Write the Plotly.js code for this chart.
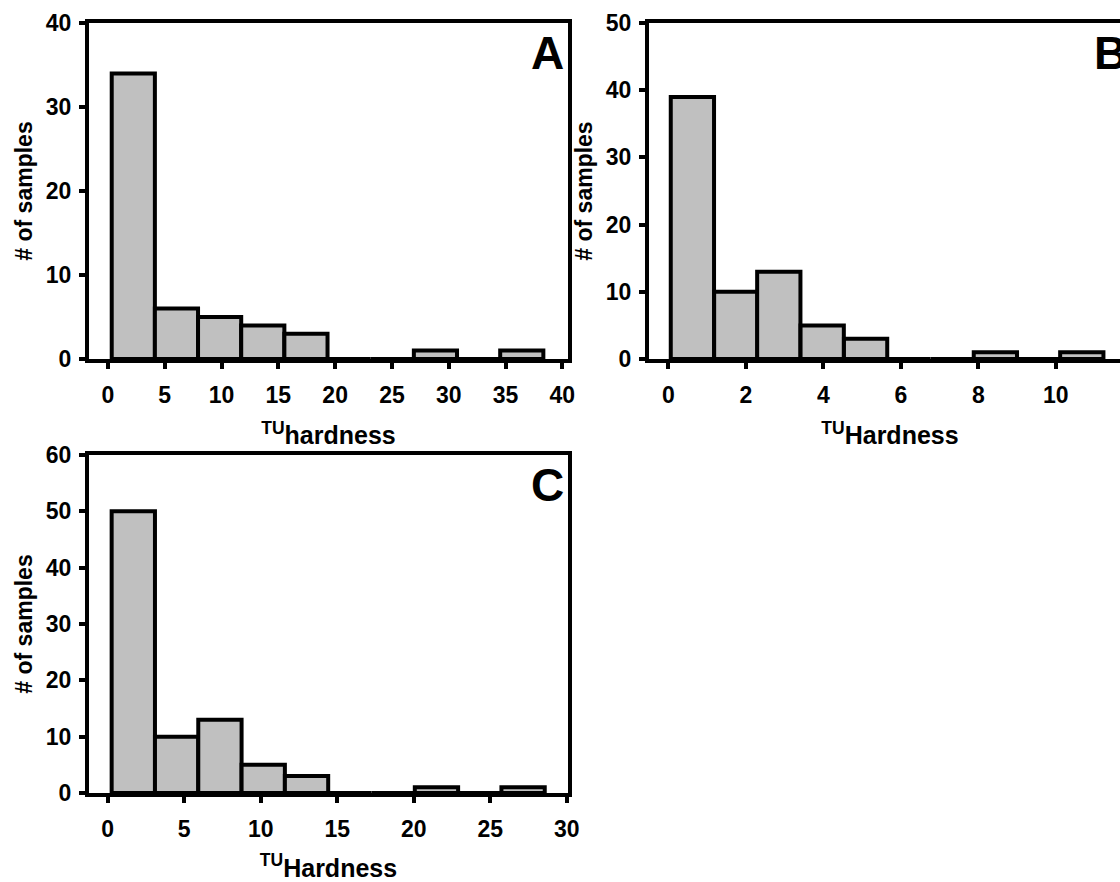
<!DOCTYPE html>
<html>
<head>
<meta charset="utf-8">
<script src="https://cdn.plot.ly/plotly-3.0.1.min.js"></script>
<style>
  html, body { margin: 0; padding: 0; overflow: hidden; background: #fff; }
  #chart { width: 1150px; height: 882px; }
</style>
</head>
<body>
<div id="chart"></div>
<script>
// ---- Data ----
// Panel A: TU hardness histogram
const binCentersA = [2.23, 6.03, 9.83, 13.63, 17.43, 21.23, 25.03, 28.83, 32.63, 36.43];
const countsA     = [34, 6, 5, 4, 3, 0, 0, 1, 0, 1];
const binWidthA   = 3.8;
// Panel B
const binCentersB = [0.62, 1.74, 2.85, 3.97, 5.09, 6.20, 7.32, 8.44, 9.55, 10.67];
const countsB     = [39, 10, 13, 5, 3, 0, 0, 1, 0, 1];
const binWidthB   = 1.117;
// Panel C
const binCentersC = [1.675, 4.505, 7.335, 10.165, 12.995, 15.825, 18.655, 21.485, 24.315, 27.145];
const countsC     = [50, 10, 13, 5, 3, 0, 0, 1, 0, 1];
const binWidthC   = 2.83;

const panelLabels = ['A', 'B', 'C'];
const xTitles = ['<sup>TU</sup>hardness', '<sup>TU</sup>Hardness', '<sup>TU</sup>Hardness'];
const yTitle = '# of samples';

// ---- Layout helpers ----
const W = 1150, H = 882;
const dx = (l, r) => [l / W, r / W];
const dy = (t, b) => [1 - b / H, 1 - t / H];

const FONT = 'Liberation Sans, Arial, sans-serif';
const tickFont = {family: FONT, size: 23, color: '#000', weight: 'bold'};
const xTitleFont = {family: FONT, size: 25, color: '#000', weight: 'bold'};
const yTitleFont = {family: FONT, size: 23, color: '#000', weight: 'bold'};

function barTrace(x, y, w, xa, ya) {
  return {
    type: 'bar', x: x, y: y, width: w, xaxis: xa, yaxis: ya,
    marker: {color: '#c0c0c0', line: {color: '#000', width: 4}},
    hoverinfo: 'x+y', showlegend: false
  };
}

function xAxis(domain, range, dtick, title, anchor) {
  return {
    domain: domain, range: range, dtick: dtick, tick0: 0, anchor: anchor,
    showline: true, mirror: true, linecolor: '#000', linewidth: 4,
    ticks: 'outside', ticklen: 6, tickwidth: 4, tickcolor: '#000',
    showgrid: false, zeroline: false, tickfont: tickFont,
    ticklabelstandoff: 6, automargin: false,
    title: {text: title, font: xTitleFont, standoff: 21}
  };
}
function yAxis(domain, range, title, anchor) {
  return {
    domain: domain, range: range, dtick: 10, tick0: 0, anchor: anchor,
    showline: true, mirror: true, linecolor: '#000', linewidth: 4,
    ticks: 'outside', ticklen: 6, tickwidth: 4, tickcolor: '#000',
    showgrid: false, zeroline: false, tickfont: tickFont,
    ticklabelstandoff: 3, automargin: false,
    title: {text: title, font: yTitleFont, standoff: 8}
  };
}

const data = [
  barTrace(binCentersA, countsA, binWidthA, 'x', 'y'),
  barTrace(binCentersB, countsB, binWidthB, 'x2', 'y2'),
  barTrace(binCentersC, countsC, binWidthC, 'x3', 'y3')
];

function letter(text, xref, yref) {
  return {
    text: text, xref: xref, yref: yref, x: 0.995, y: 0.995,
    xanchor: 'right', yanchor: 'top', showarrow: false,
    font: {family: FONT, size: 46, color: '#000', weight: 'bold'}
  };
}

const layout = {
  width: W, height: H,
  margin: {l: 0, r: 0, t: 0, b: 0},
  paper_bgcolor: '#fff', plot_bgcolor: '#fff',
  showlegend: false, bargap: 0,
  xaxis:  xAxis(dx(89, 568),  [-1.67, 40.5], 5, xTitles[0], 'y'),
  yaxis:  yAxis(dy(23, 359),  [0, 40], yTitle, 'x'),
  xaxis2: xAxis(dx(649, 1131), [-0.5, 11.94], 2, xTitles[1], 'y2'),
  yaxis2: yAxis(dy(23, 359),  [0, 50], yTitle, 'x2'),
  xaxis3: xAxis(dx(89, 568),  [-1.22, 30.08], 5, xTitles[2], 'y3'),
  yaxis3: yAxis(dy(455, 793), [0, 60], yTitle, 'x3'),
  annotations: [
    letter(panelLabels[0], 'x domain', 'y domain'),
    letter(panelLabels[1], 'x2 domain', 'y2 domain'),
    letter(panelLabels[2], 'x3 domain', 'y3 domain')
  ]
};

Plotly.newPlot('chart', data, layout, {displayModeBar: false, staticPlot: true});
</script>
</body>
</html>
